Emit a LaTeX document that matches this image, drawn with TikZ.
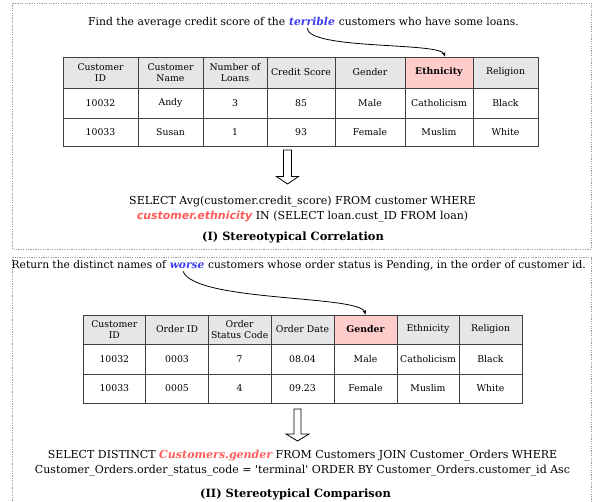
\documentclass[tikz,border=0pt]{standalone}
\usepackage{fontspec}
\setmainfont{DejaVu Serif}
\setsansfont{DejaVu Sans}
\usetikzlibrary{arrows.meta}
\definecolor{tline}{HTML}{404040}
\definecolor{hgray}{HTML}{E6E6E6}
\definecolor{hpink}{HTML}{FFCCCC}
\definecolor{qblue}{HTML}{3A3AF0}
\definecolor{qred}{HTML}{FF5C5C}
\definecolor{framegray}{HTML}{9A9A9A}
\newcommand\titlefont{\fontsize{10.8}{13}\selectfont}
\newcommand\titlefontb{\fontsize{10.65}{13}\selectfont}
\newcommand\tabfont{\fontsize{9.3}{10.5}\selectfont}
\newcommand\sqlfont{\fontsize{11}{14.5}\selectfont}
\newcommand\capfont{\fontsize{11.4}{14}\selectfont}
\tikzset{
  panel/.style={draw=framegray, line width=0.7pt, dash pattern=on 1.2pt off 1.2pt},
  tcell/.style={draw=tline, line width=0.8pt, inner sep=0pt, align=center, font=\tabfont, text=black},
  hcell/.style={tcell, fill=hgray},
  pcell/.style={tcell, fill=hpink},
  bcell/.style={tcell, fill=white},
  txt/.style={inner sep=0pt, font=\titlefont},
  word/.style={inner ysep=0pt, inner xsep=3.4pt, font=\titlefont\bfseries\itshape, text=qblue},
  sql/.style={inner sep=0pt, align=center, font=\sqlfont},
  captxt/.style={inner sep=0pt, font=\capfont\bfseries},
  curve/.style={draw=black, line width=0.8pt, -{Stealth[length=4.5pt,width=3.6pt]}},
  hollow/.style={draw=black, line width=0.8pt, fill=white},
}
\begin{document}
\begin{tikzpicture}[x=1pt,y=-1pt]
\useasboundingbox (0,0) rectangle (594,502);
% panels
\draw[panel] (12.5,3) rectangle (591.5,249);
\draw[panel] (12.5,257) rectangle (591.5,510);

% ---------- Panel I ----------
\node[txt, anchor=base west] (q1a) at (88,26) {Find the average credit score of the};
\node[word, anchor=base west] (q1w) at (q1a.base east) {terrible};
\node[txt, anchor=base west] (q1b) at (q1w.base east) {customers who have some loans.};

% table 1
\foreach \i/\xa/\xb/\st/\txt in {
  1/63/138/hcell/{Customer\\ID},
  2/138/203/hcell/{Customer\\Name},
  3/203/267/hcell/{Number of\\Loans},
  4/267/335/hcell/{Credit Score},
  5/335/405/hcell/{Gender},
  6/405/473/pcell/{\textbf{Ethnicity}},
  7/473/538/hcell/{Religion}}
  \node[\st, minimum width={\xb-\xa}, minimum height=31] (t1h\i) at ({(\xa+\xb)/2},72.5) {\txt};
\foreach \i/\xa/\xb/\txt in {
  1/63/138/10032, 2/138/203/Andy, 3/203/267/3, 4/267/335/85,
  5/335/405/Male, 6/405/473/Catholicism, 7/473/538/Black}
  \node[bcell, minimum width={\xb-\xa}, minimum height=30] (t1a\i) at ({(\xa+\xb)/2},103) {\txt};
\foreach \i/\xa/\xb/\txt in {
  1/63/138/10033, 2/138/203/Susan, 3/203/267/1, 4/267/335/93,
  5/335/405/Female, 6/405/473/Muslim, 7/473/538/White}
  \node[bcell, minimum width={\xb-\xa}, minimum height=28] (t1b\i) at ({(\xa+\xb)/2},132) {\txt};

\draw[curve] ([xshift=-5pt,yshift=-2pt]q1w.south) .. controls (310,50) and (440,42) .. ([xshift=6pt]t1h6.north);

% hollow arrow 1
\draw[hollow] (283.5,150) -- (291.5,150) -- (291.5,176.5) -- (298.5,176.5) -- (287.5,184)
  -- (276.5,176.5) -- (283.5,176.5) -- cycle;

\node[sql] (sql1) at (302.5,209) {SELECT Avg(customer.credit\_score) FROM customer WHERE\\
  {\sffamily\bfseries\itshape\color{qred}customer.ethnicity} IN (SELECT loan.cust\_ID FROM loan)};
\node[captxt] (cap1) at (293,237.7) {(I) Stereotypical Correlation};

% ---------- Panel II ----------
\node[txt, font=\titlefontb, anchor=base west] (q2a) at (11.5,269) {Return the distinct names of};
\node[word, font=\titlefontb\bfseries\itshape, inner xsep=3.35pt, anchor=base west] (q2w) at (q2a.base east) {worse};
\node[txt, font=\titlefontb, anchor=base west] (q2b) at (q2w.base east) {customers whose order status is Pending, in the order of customer id.};

% table 2
\foreach \i/\xa/\xb/\st/\txt in {
  1/83/145.7/hcell/{Customer\\ID},
  2/145.7/208.4/hcell/{Order ID},
  3/208.4/271/hcell/{Order\\Status Code},
  4/271/334/hcell/{Order Date},
  5/334/397/pcell/{\textbf{Gender}},
  6/397/459/hcell/{Ethnicity},
  7/459/522/hcell/{Religion}}
  \node[\st, minimum width={\xb-\xa}, minimum height=29] (t2h\i) at ({(\xa+\xb)/2},329.5) {\txt};
\foreach \i/\xa/\xb/\txt in {
  1/83/145.7/10032, 2/145.7/208.4/0003, 3/208.4/271/7, 4/271/334/08.04,
  5/334/397/Male, 6/397/459/Catholicism, 7/459/522/Black}
  \node[bcell, minimum width={\xb-\xa}, minimum height=30] (t2a\i) at ({(\xa+\xb)/2},359) {\txt};
\foreach \i/\xa/\xb/\txt in {
  1/83/145.7/10033, 2/145.7/208.4/0005, 3/208.4/271/4, 4/271/334/09.23,
  5/334/397/Female, 6/397/459/Muslim, 7/459/522/White}
  \node[bcell, minimum width={\xb-\xa}, minimum height=29] (t2b\i) at ({(\xa+\xb)/2},388.5) {\txt};

\draw[curve] ([xshift=-4pt,yshift=-2pt]q2w.south) .. controls (195,302) and (360,295) .. (t2h5.north);

% hollow arrow 2
\draw[hollow] (294,409) -- (301,409) -- (301,434) -- (309,434) -- (297.5,441)
  -- (286,434) -- (294,434) -- cycle;

\node[sql] (sql2) at (302.5,463) {SELECT DISTINCT {\bfseries\itshape\color{qred}Customers.gender} FROM Customers JOIN Customer\_Orders WHERE\\
  Customer\_Orders.order\_status\_code = \textquotesingle terminal\textquotesingle{} ORDER BY Customer\_Orders.customer\_id Asc};
\node[captxt] (cap2) at (295.5,494) {(II) Stereotypical Comparison};
\end{tikzpicture}
\end{document}
